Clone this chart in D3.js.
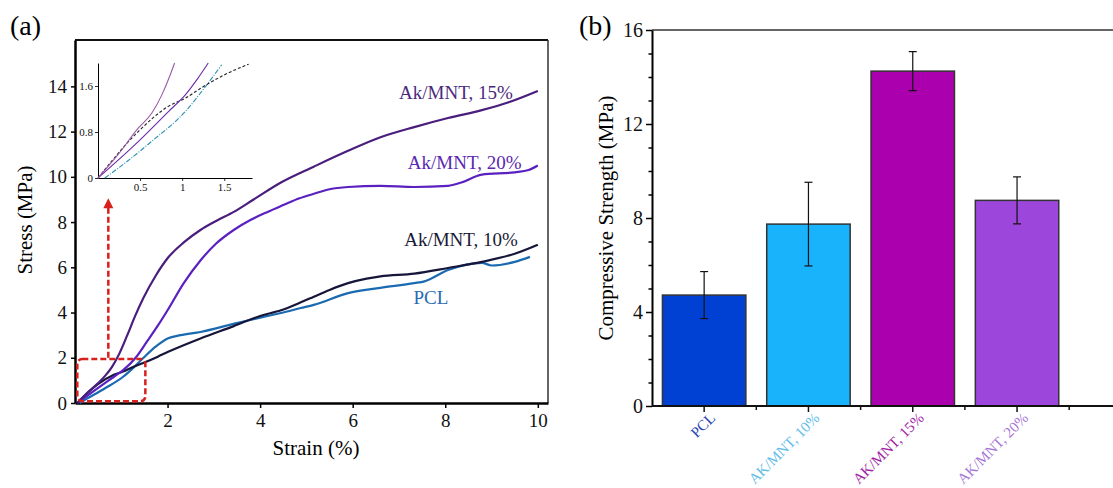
<!DOCTYPE html>
<html>
<head>
<meta charset="utf-8">
<script src="https://cdn.jsdelivr.net/npm/d3@7"></script>
<style>
  html, body { margin: 0; padding: 0; background: #fff; }
  svg { display: block; font-family: "Liberation Serif", "DejaVu Serif", serif; }
</style>
</head>
<body>
<svg id="chart" width="1113" height="488"></svg>
<script>
(function() {
  'use strict';

  // (a) stress-strain curves, [strain %, stress MPa]
  var curve15 = [[0.05,0],[0.25,0.42],[0.5,0.88],[0.65,1.2],[0.8,1.6],[0.95,2.15],[1.13,3.0],[1.3,3.85],[1.48,4.65],[1.75,5.65],[2.0,6.4],[2.35,7.1],[2.71,7.65],[3.05,8.05],[3.43,8.45],[3.86,9.0],[4.45,9.75],[5.16,10.45],[5.9,11.15],[6.6,11.75],[7.33,12.2],[8.06,12.6],[8.79,12.95],[9.37,13.3],[10.0,13.8]];
  var curve20 = [[0.05,0],[0.44,0.58],[0.84,1.16],[1.04,1.45],[1.31,2.0],[1.55,2.7],[1.8,3.45],[2.0,4.1],[2.35,5.3],[2.71,6.3],[3.05,7.05],[3.43,7.65],[3.8,8.1],[4.16,8.45],[4.5,8.75],[4.85,9.05],[5.16,9.25],[5.5,9.45],[5.9,9.55],[6.6,9.6],[7.33,9.55],[8.06,9.6],[8.35,9.75],[8.79,10.1],[9.5,10.2],[9.8,10.3],[10.0,10.5]];
  var curve10 = [[0.05,0],[0.48,0.81],[0.84,1.25],[1.04,1.39],[1.23,1.57],[1.51,1.8],[1.79,2.05],[2.0,2.25],[2.71,2.85],[3.43,3.4],[4.0,3.85],[4.45,4.1],[4.88,4.45],[5.16,4.7],[5.5,5.0],[5.9,5.3],[6.3,5.5],[6.6,5.6],[7.33,5.72],[8.06,5.97],[8.79,6.24],[9.5,6.6],[10.0,7.0]];
  var curvePCL = [[0.1,0],[0.24,0.17],[0.64,0.64],[1.04,1.16],[1.23,1.5],[1.48,2.0],[1.75,2.5],[2.0,2.85],[2.28,3.0],[2.71,3.14],[3.43,3.5],[4.16,3.85],[4.45,3.98],[4.88,4.2],[5.16,4.34],[5.9,4.86],[6.6,5.09],[7.33,5.3],[7.55,5.38],[8.06,5.88],[8.79,6.2],[9.0,6.08],[9.5,6.24],[9.83,6.46]];

  // (a) inset, zoom on the first 2 MPa
  var inset15 = [[0,0],[0.24,0.41],[0.48,0.87],[0.64,1.13],[0.76,1.45],[0.86,1.8],[0.91,2.0]];
  var inset20 = [[0,0],[0.44,0.58],[0.84,1.16],[1.04,1.45],[1.18,1.72],[1.31,2.0]];
  var inset10 = [[0,0],[0.48,0.81],[0.84,1.25],[1.04,1.39],[1.23,1.57],[1.51,1.8],[1.79,1.98]];
  var insetPCL = [[0.08,0],[0.24,0.17],[0.64,0.64],[1.04,1.16],[1.23,1.5],[1.47,1.97]];

  var strainTicks = [2, 4, 6, 8, 10];
  var stressTicks = [0, 2, 4, 6, 8, 10, 12, 14];
  var insetXTicks = [0.5, 1, 1.5];
  var insetYTicks = [0, 0.8, 1.6];

  // (b) compressive strength
  var groups = ["PCL", "AK/MNT, 10%", "AK/MNT, 15%", "AK/MNT, 20%"];
  var strength = [4.72, 7.74, 14.25, 8.75];
  var strengthErr = [1.0, 1.78, 0.83, 1.0];
  var strengthTicks = [0, 4, 8, 12, 16];

  var svg = d3.select("#chart");

  function styleAxis(g, width) {
    g.selectAll(".domain").attr("stroke", "#000").attr("stroke-width", width);
    g.selectAll(".tick line").attr("stroke", "#000").attr("stroke-width", 1.5);
    g.selectAll(".tick text").attr("fill", "#111").attr("font-family", "Liberation Serif");
  }

  // ---------- panel (a) ----------
  var xA = d3.scaleLinear().domain([0, 10.22]).range([75, 548]);
  var yA = d3.scaleLinear().domain([0, 16.05]).range([403, 40]);

  svg.append("text").attr("x", 10).attr("y", 35)
    .attr("font-size", 28).text("(a)");

  // frame top / right
  svg.append("line").attr("x1", xA(0)).attr("x2", xA(10.22)).attr("y1", yA(16.05)).attr("y2", yA(16.05))
    .attr("stroke", "#111").attr("stroke-width", 2);
  svg.append("line").attr("x1", xA(10.22)).attr("x2", xA(10.22)).attr("y1", yA(16.05)).attr("y2", yA(0))
    .attr("stroke", "#333").attr("stroke-width", 1.5);

  var gxA = svg.append("g").attr("transform", "translate(0," + yA(0) + ")")
    .call(d3.axisBottom(xA).tickValues(strainTicks).tickSize(5).tickSizeOuter(0).tickPadding(6));
  gxA.selectAll(".tick text").attr("font-size", 19);
  styleAxis(gxA, 2.5);

  var gyA = svg.append("g").attr("transform", "translate(" + xA(0) + ",0)")
    .call(d3.axisLeft(yA).tickValues(stressTicks).tickSize(4).tickSizeOuter(0).tickPadding(4));
  gyA.selectAll(".tick text").attr("font-size", 19);
  styleAxis(gyA, 2.5);

  svg.append("text").attr("transform", "translate(32,220) rotate(-90)")
    .attr("text-anchor", "middle").attr("font-size", 21).text("Stress (MPa)");
  svg.append("text").attr("x", 316).attr("y", 455)
    .attr("text-anchor", "middle").attr("font-size", 21).text("Strain (%)");

  var lineA = d3.line().x(function(d) { return xA(d[0]); }).y(function(d) { return yA(d[1]); })
    .curve(d3.curveMonotoneX);

  var seriesA = [
    { data: curvePCL, color: "#1a6ab2" },
    { data: curve10, color: "#16163a" },
    { data: curve20, color: "#5a20c0" },
    { data: curve15, color: "#4a1e7c" }
  ];
  svg.append("g").selectAll("path").data(seriesA).join("path")
    .attr("d", function(s) { return lineA(s.data); })
    .attr("fill", "none")
    .attr("stroke", function(s) { return s.color; })
    .attr("stroke-width", 2.2);

  var labelsA = [
    { text: "Ak/MNT, 15%", x: 8.23, y: 13.45, color: "#4a2a7c" },
    { text: "Ak/MNT, 20%", x: 8.42, y: 10.35, color: "#5a28b0" },
    { text: "Ak/MNT, 10%", x: 8.34, y: 6.95, color: "#1a1a36" },
    { text: "PCL", x: 7.69, y: 4.38, color: "#2a6ab2" }
  ];
  svg.append("g").selectAll("text").data(labelsA).join("text")
    .attr("x", function(d) { return xA(d.x); })
    .attr("y", function(d) { return yA(d.y); })
    .attr("text-anchor", "middle")
    .attr("font-size", 19)
    .attr("fill", function(d) { return d.color; })
    .text(function(d) { return d.text; });

  // red zoom box and arrow
  svg.append("rect")
    .attr("x", xA(0.05)).attr("y", yA(1.95))
    .attr("width", xA(1.52) - xA(0.05)).attr("height", yA(0.08) - yA(1.95))
    .attr("rx", 5).attr("fill", "none")
    .attr("stroke", "#d8201c").attr("stroke-width", 2.5).attr("stroke-dasharray", "6,3");
  svg.append("line")
    .attr("x1", xA(0.72)).attr("x2", xA(0.72)).attr("y1", yA(2.0)).attr("y2", yA(8.65))
    .attr("stroke", "#d8201c").attr("stroke-width", 2.5).attr("stroke-dasharray", "6,3");
  svg.append("path")
    .attr("d", "M" + xA(0.72) + "," + (yA(9.05)) + "l-5,10h10z")
    .attr("fill", "#d8201c");

  // ---------- inset ----------
  var xI = d3.scaleLinear().domain([0, 1.83]).range([98, 252]);
  var yI = d3.scaleLinear().domain([0, 2.0]).range([178, 63]);

  var gxI = svg.append("g").attr("transform", "translate(0," + yI(0) + ")")
    .call(d3.axisBottom(xI).tickValues(insetXTicks).tickSize(3).tickSizeOuter(0).tickPadding(2)
      .tickFormat(function(v) { return String(v); }));
  gxI.selectAll(".tick text").attr("font-size", 11);
  styleAxis(gxI, 1);
  gxI.selectAll(".tick line").attr("stroke-width", 0.8);

  var gyI = svg.append("g").attr("transform", "translate(" + xI(0) + ",0)")
    .call(d3.axisLeft(yI).tickValues(insetYTicks).tickSize(3).tickSizeOuter(0).tickPadding(2)
      .tickFormat(function(v) { return String(v); }));
  gyI.selectAll(".tick text").attr("font-size", 11);
  styleAxis(gyI, 1);
  gyI.selectAll(".tick line").attr("stroke-width", 0.8);

  var lineI = d3.line().x(function(d) { return xI(d[0]); }).y(function(d) { return yI(d[1]); })
    .curve(d3.curveMonotoneX);
  var seriesI = [
    { data: insetPCL, color: "#2a8fb0", dash: "5,1.5,1,1.5" },
    { data: inset10, color: "#222", dash: "3,2" },
    { data: inset20, color: "#6a2aa6", dash: null },
    { data: inset15, color: "#9a5aa8", dash: null }
  ];
  svg.append("g").selectAll("path").data(seriesI).join("path")
    .attr("d", function(s) { return lineI(s.data); })
    .attr("fill", "none")
    .attr("stroke", function(s) { return s.color; })
    .attr("stroke-width", 1.1)
    .attr("stroke-dasharray", function(s) { return s.dash; });

  // ---------- panel (b) ----------
  var xB = d3.scaleBand().domain(groups).range([652, 1069.2]).paddingInner(0.2).paddingOuter(0.1);
  var yB = d3.scaleLinear().domain([0, 16]).range([406, 30]);
  var barColors = ["#0041d4", "#19b3fb", "#aa00ae", "#9d46dc"];
  var labelColors = ["#2a44b4", "#60bce8", "#a01ca4", "#a676d6"];

  svg.append("text").attr("x", 579).attr("y", 35)
    .attr("font-size", 28).text("(b)");

  svg.append("line").attr("x1", 652).attr("x2", 1113).attr("y1", yB(16)).attr("y2", yB(16))
    .attr("stroke", "#333").attr("stroke-width", 1.5);

  svg.append("g").selectAll("rect").data(groups).join("rect")
    .attr("x", function(d) { return xB(d); })
    .attr("y", function(d, i) { return yB(strength[i]); })
    .attr("width", xB.bandwidth())
    .attr("height", function(d, i) { return yB(0) - yB(strength[i]); })
    .attr("fill", function(d, i) { return barColors[i]; })
    .attr("stroke", "#333").attr("stroke-width", 1.5);

  var err = svg.append("g").selectAll("g").data(groups).join("g")
    .attr("stroke", "#111").attr("stroke-width", 1.2);
  err.append("line")
    .attr("x1", function(d) { return xB(d) + xB.bandwidth() / 2; })
    .attr("x2", function(d) { return xB(d) + xB.bandwidth() / 2; })
    .attr("y1", function(d, i) { return yB(strength[i] + strengthErr[i]); })
    .attr("y2", function(d, i) { return yB(strength[i] - strengthErr[i]); });
  [1, -1].forEach(function(sign) {
    err.append("line")
      .attr("x1", function(d) { return xB(d) + xB.bandwidth() / 2 - 4; })
      .attr("x2", function(d) { return xB(d) + xB.bandwidth() / 2 + 4; })
      .attr("y1", function(d, i) { return yB(strength[i] + sign * strengthErr[i]); })
      .attr("y2", function(d, i) { return yB(strength[i] + sign * strengthErr[i]); });
  });

  var gyB = svg.append("g").attr("transform", "translate(652,0)")
    .call(d3.axisLeft(yB).ticks(16).tickSize(6).tickSizeOuter(0).tickPadding(3)
      .tickFormat(function(v) { return strengthTicks.indexOf(v) >= 0 ? v : ""; }));
  gyB.selectAll(".tick text").attr("font-size", 20);
  styleAxis(gyB, 2);
  gyB.selectAll(".tick line").attr("x2", function(v) { return strengthTicks.indexOf(v) >= 0 ? -6 : -3.5; });

  // x axis line and ticks
  var step = xB.step();
  svg.append("line").attr("x1", 652).attr("x2", 1113).attr("y1", yB(0)).attr("y2", yB(0))
    .attr("stroke", "#111").attr("stroke-width", 2);
  var tickPos = [];
  groups.forEach(function(g) {
    var c = xB(g) + xB.bandwidth() / 2;
    tickPos.push({ x: c, len: 6 });
    tickPos.push({ x: c + step / 2, len: 4 });
  });
  svg.append("g").selectAll("line").data(tickPos).join("line")
    .attr("x1", function(d) { return d.x; }).attr("x2", function(d) { return d.x; })
    .attr("y1", yB(0)).attr("y2", function(d) { return yB(0) + d.len; })
    .attr("stroke", "#111").attr("stroke-width", 1.5);

  svg.append("g").selectAll("text").data(groups).join("text")
    .attr("transform", function(d) {
      return "translate(" + (xB(d) + xB.bandwidth() / 2 + 12) + "," + (yB(0) + 13) + ") rotate(-45)";
    })
    .attr("text-anchor", "end")
    .attr("font-size", 15)
    .attr("fill", function(d, i) { return labelColors[i]; })
    .text(function(d) { return d; });

  svg.append("text").attr("transform", "translate(613,218) rotate(-90)")
    .attr("text-anchor", "middle").attr("font-size", 21).text("Compressive Strength (MPa)");
}());
</script>
</body>
</html>
